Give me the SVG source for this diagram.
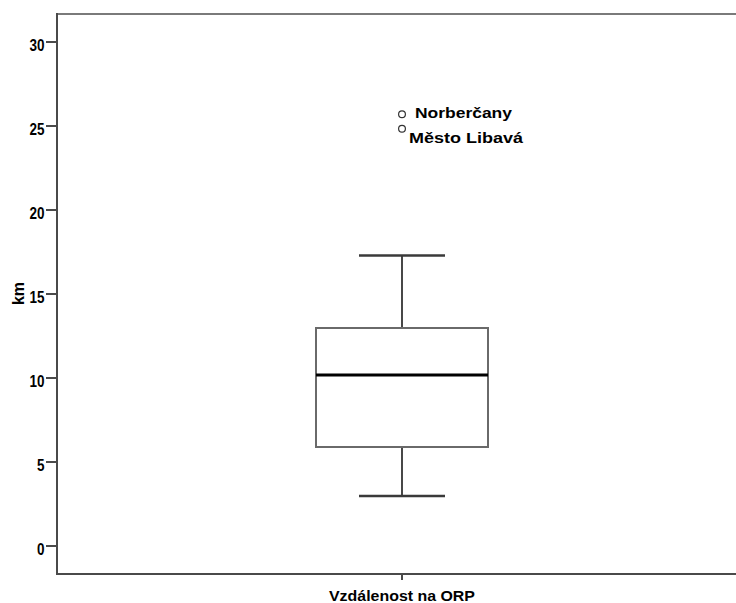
<svg xmlns="http://www.w3.org/2000/svg" width="736" height="603" viewBox="0 0 736 603">
<style>
text{font-family:"Liberation Sans",Arial,sans-serif;font-weight:bold;fill:#000}
.tl{font-size:16px;text-anchor:end}
.axis{stroke:#4a4a4a;stroke-width:2;fill:none}
.frame{stroke:#7a7a7a;stroke-width:2;fill:none}
.box{stroke:#6a6a6a;stroke-width:2;fill:#fff}
.wh{stroke:#1a1a1a;stroke-width:1.6;fill:none}
.cap{stroke:#3a3a3a;stroke-width:2.4;fill:none}
.med{stroke:#000;stroke-width:3;fill:none}
.out{stroke:#333;stroke-width:1.2;fill:#fff}
.lab{font-size:15px}
</style>
<rect width="736" height="603" fill="#fff"/>
<g id="frame">
<line class="frame" x1="57" y1="14" x2="736" y2="14"/>
<line class="axis" x1="57" y1="13" x2="57" y2="575"/>
<line class="axis" x1="56" y1="574" x2="736" y2="574"/>
</g>
<g id="y-axis">
<g class="axis">
<line x1="46" y1="42" x2="57" y2="42"/>
<line x1="46" y1="126" x2="57" y2="126"/>
<line x1="46" y1="210" x2="57" y2="210"/>
<line x1="46" y1="294" x2="57" y2="294"/>
<line x1="46" y1="378" x2="57" y2="378"/>
<line x1="46" y1="462" x2="57" y2="462"/>
<line x1="46" y1="546" x2="57" y2="546"/>
</g>
<text class="tl" x="44.5" y="50.8" textLength="15" lengthAdjust="spacingAndGlyphs">30</text>
<text class="tl" x="44.5" y="134.8" textLength="15" lengthAdjust="spacingAndGlyphs">25</text>
<text class="tl" x="44.5" y="218.8" textLength="15" lengthAdjust="spacingAndGlyphs">20</text>
<text class="tl" x="44.5" y="302.8" textLength="15" lengthAdjust="spacingAndGlyphs">15</text>
<text class="tl" x="44.5" y="386.8" textLength="15" lengthAdjust="spacingAndGlyphs">10</text>
<text class="tl" x="44.5" y="470.8" textLength="7.5" lengthAdjust="spacingAndGlyphs">5</text>
<text class="tl" x="44.5" y="554.8" textLength="7.5" lengthAdjust="spacingAndGlyphs">0</text>
<text class="lab" style="font-size:16px" transform="translate(24,293.5) rotate(-90)" text-anchor="middle">km</text>
</g>
<g id="x-axis">
<line class="axis" x1="402" y1="574" x2="402" y2="580"/>
<text class="lab" x="402" y="600.5" text-anchor="middle" textLength="146" lengthAdjust="spacingAndGlyphs">Vzdálenost na ORP</text>
</g>
<g id="boxplot">
<line class="wh" x1="402" y1="255.5" x2="402" y2="328"/>
<line class="wh" x1="402" y1="447" x2="402" y2="496"/>
<line class="cap" x1="359" y1="255.5" x2="445" y2="255.5"/>
<line class="cap" x1="359" y1="496" x2="445" y2="496"/>
<rect class="box" x="316" y="328" width="172" height="119"/>
<line class="med" x1="316" y1="375" x2="488" y2="375"/>
</g>
<g id="outliers">
<circle class="out" cx="402" cy="114.2" r="3.4"/>
<circle class="out" cx="402" cy="128.8" r="3.4"/>
<text class="lab" x="415" y="117.5" textLength="97" lengthAdjust="spacingAndGlyphs">Norberčany</text>
<text class="lab" x="409" y="142.5" textLength="114" lengthAdjust="spacingAndGlyphs">Město Libavá</text>
</g>
</svg>
